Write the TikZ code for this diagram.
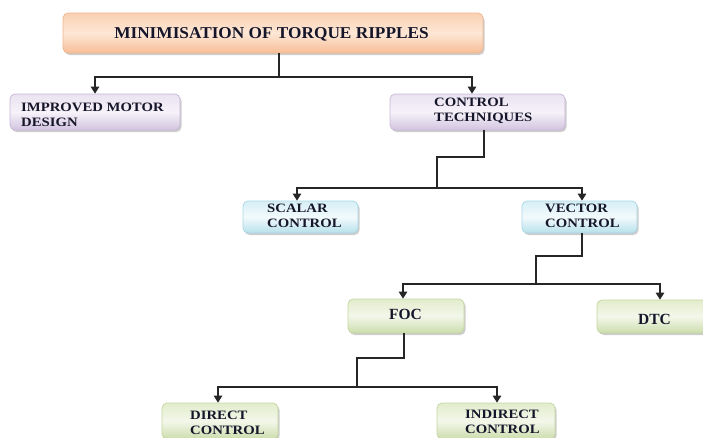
\documentclass[tikz,border=0pt]{standalone}
\usepackage{fontspec}
\setmainfont{Liberation Serif}
\newfontfamily\titlefont[FakeStretch=1.04]{Liberation Serif}
\newfontfamily\boxfont[FakeStretch=1.15]{Liberation Serif}
\usetikzlibrary{arrows.meta,shadows}

% text and line colours
\definecolor{ink}{HTML}{16162A}
\definecolor{lnk}{HTML}{262626}
% orange (root)
\definecolor{orT}{HTML}{FAD1B1}
\definecolor{orM}{HTML}{FDE7D6}
\definecolor{orD}{HTML}{F7BE96}
\definecolor{orB}{HTML}{EDB58E}
% purple (first level)
\definecolor{puT}{HTML}{EAE2F1}
\definecolor{puM}{HTML}{F6F2F9}
\definecolor{puD}{HTML}{D2C4DF}
\definecolor{puB}{HTML}{C6B5D6}
% blue (second level)
\definecolor{blT}{HTML}{D6EFF6}
\definecolor{blM}{HTML}{F2FAFC}
\definecolor{blD}{HTML}{B8E0EB}
\definecolor{blB}{HTML}{A9D6E4}
% green (third and fourth level)
\definecolor{grT}{HTML}{E3ECCC}
\definecolor{grM}{HTML}{F3F7EA}
\definecolor{grD}{HTML}{CCDDAC}
\definecolor{grB}{HTML}{C3D69F}

\begin{document}
\begin{tikzpicture}[x=1pt,y=-1pt,
  box/.style={rounded corners=5pt, inner sep=0pt, line width=0.7pt,
    drop shadow={shadow xshift=1.5pt,shadow yshift=-2pt,opacity=0.28,fill=black!70}},
  orbox/.style={box, draw=orB, top color=orT, bottom color=orD, middle color=orM},
  pubox/.style={box, draw=puB, top color=puT, bottom color=puD, middle color=puM},
  blbox/.style={box, draw=blB, top color=blT, bottom color=blD, middle color=blM},
  grbox/.style={box, draw=grB, top color=grT, bottom color=grD, middle color=grM},
  ttl/.style={font=\titlefont\bfseries\fontsize{16.6}{20}\selectfont, text=ink, inner sep=0pt},
  big/.style={font=\bfseries\fontsize{15.5}{18}\selectfont, text=ink, inner sep=0pt},
  lbl/.style={font=\boxfont\bfseries\fontsize{12.8}{15}\selectfont, text=ink,
    inner sep=0pt, align=left, anchor=west},
  conn/.style={draw=lnk, line width=1.2pt},
  arr/.style={conn, -{Triangle[length=7pt,width=8.5pt]}},
]
\useasboundingbox (0,0) rectangle (703,437);
\clip (0,0) rectangle (703,437);

% boxes
\node[orbox, minimum width=420pt, minimum height=40pt] (root) at (273,33) {};
\node[ttl] (rootT) at (271.5,34) {MINIMISATION OF TORQUE RIPPLES};

\node[pubox, minimum width=170pt, minimum height=36pt] (motor) at (95,112) {};
\node[lbl] (motorT) at (21,114.5) {IMPROVED MOTOR\\DESIGN};

\node[pubox, minimum width=175pt, minimum height=36pt] (tech) at (477.5,112) {};
\node[lbl] (techT) at (434,110.5) {CONTROL\\TECHNIQUES};

\node[blbox, minimum width=115pt, minimum height=32pt] (scalar) at (300.5,217) {};
\node[lbl] (scalarT) at (267,216) {SCALAR\\CONTROL};

\node[blbox, minimum width=115pt, minimum height=32pt] (vector) at (579.5,217) {};
\node[lbl] (vectorT) at (545,215.5) {VECTOR\\CONTROL};

\node[grbox, minimum width=116pt, minimum height=34pt] (foc) at (406,316) {};
\node[big] (focT) at (405.5,314) {FOC};

\node[grbox, minimum width=116pt, minimum height=33pt] (dtc) at (655,316.5) {};
\node[big] (dtcT) at (654.5,319) {DTC};

\node[grbox, minimum width=116pt, minimum height=36pt] (direct) at (220,421) {};
\node[lbl] (directT) at (190,422.5) {DIRECT\\CONTROL};

\node[grbox, minimum width=118pt, minimum height=36pt] (indirect) at (496,421) {};
\node[lbl] (indirectT) at (465,421.5) {INDIRECT\\CONTROL};

% branch points of the connectors
\coordinate (j1) at (279,77);
\coordinate (b2) at (437,157);
\coordinate (j2) at (437,188);
\coordinate (b3) at (536,256);
\coordinate (j3) at (536,284);
\coordinate (b4) at (357,358);
\coordinate (j4) at (357,387);

% root -> first level
\draw[conn] (root.south -| j1) -- (j1);
\draw[arr] (j1) -| (motor.north);
\draw[arr] (j1) -| ([xshift=-5.5pt]tech.north);

% control techniques -> scalar / vector
\draw[conn] ([xshift=6.5pt]tech.south) |- (b2) -- (j2);
\draw[arr] (j2) -| ([xshift=-3.5pt]scalar.north);
\draw[arr] (j2) -| ([xshift=2.5pt]vector.north);

% vector control -> FOC / DTC
\draw[conn] ([xshift=2.5pt]vector.south) |- (b3) -- (j3);
\draw[arr] (j3) -| ([xshift=-3pt]foc.north);
\draw[arr] (j3) -| ([xshift=5pt]dtc.north);

% FOC -> direct / indirect
\draw[conn] ([xshift=-2pt]foc.south) |- (b4) -- (j4);
\draw[arr] (j4) -| ([xshift=-2pt]direct.north);
\draw[arr] (j4) -| ([xshift=1pt]indirect.north);
\end{tikzpicture}
\end{document}
